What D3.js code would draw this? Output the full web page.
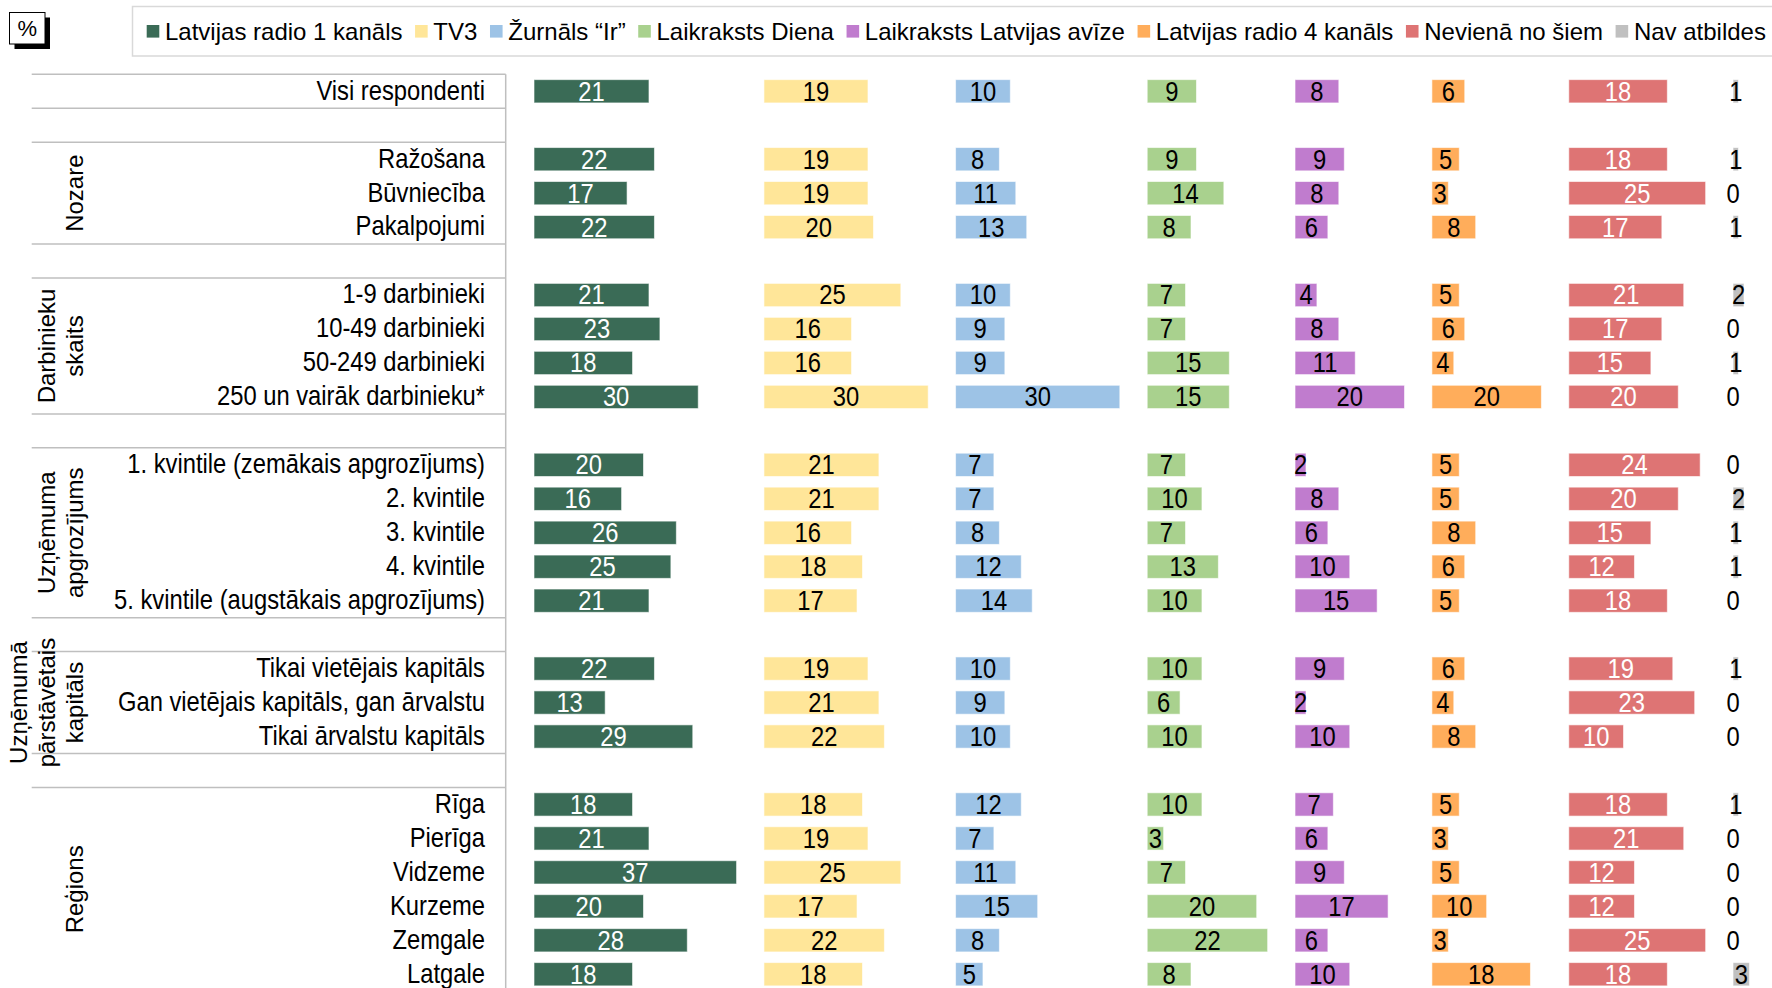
<!DOCTYPE html>
<html>
<head>
<meta charset="utf-8">
<script src="https://cdn.jsdelivr.net/npm/d3@7"></script>
<style>
  body { margin: 0; background: #fff; }
  text { font-family: "Liberation Sans", Arial, sans-serif; }
</style>
</head>
<body>
<div id="chart-area"></div>
<script>
// row labels ("" = empty spacer row)
const rowLabels = [
  "Visi respondenti", "",
  "Ražošana", "Būvniecība", "Pakalpojumi", "",
  "1-9 darbinieki", "10-49 darbinieki", "50-249 darbinieki", "250 un vairāk darbinieku*", "",
  "1. kvintile (zemākais apgrozījums)", "2. kvintile", "3. kvintile", "4. kvintile", "5. kvintile (augstākais apgrozījums)", "",
  "Tikai vietējais kapitāls", "Gan vietējais kapitāls, gan ārvalstu", "Tikai ārvalstu kapitāls", "",
  "Rīga", "Pierīga", "Vidzeme", "Kurzeme", "Zemgale", "Latgale"
];

const seriesNames = ["Latvijas radio 1 kanāls", "TV3", "Žurnāls \u201cIr\u201d", "Laikraksts Diena",
  "Laikraksts Latvijas avīze", "Latvijas radio 4 kanāls", "Nevienā no šiem", "Nav atbildes"];

const lr1     = [21,null,22,17,22,null,21,23,18,30,null,20,16,26,25,21,null,22,13,29,null,18,21,37,20,28,18];
const tv3     = [19,null,19,19,20,null,25,16,16,30,null,21,21,16,18,17,null,19,21,22,null,18,19,25,17,22,18];
const ir      = [10,null,8,11,13,null,10,9,9,30,null,7,7,8,12,14,null,10,9,10,null,12,7,11,15,8,5];
const diena   = [9,null,9,14,8,null,7,7,15,15,null,7,10,7,13,10,null,10,6,10,null,10,3,7,20,22,8];
const la      = [8,null,9,8,6,null,4,8,11,20,null,2,8,6,10,15,null,9,2,10,null,7,6,9,17,6,10];
const lr4     = [6,null,5,3,8,null,5,6,4,20,null,5,5,8,6,5,null,6,4,8,null,5,3,5,10,3,18];
const neviena = [18,null,18,25,17,null,21,17,15,20,null,24,20,15,12,18,null,19,23,10,null,18,21,12,12,25,18];
const nav     = [1,null,1,0,1,null,2,0,1,0,null,0,2,1,1,0,null,1,0,0,null,1,0,0,0,0,3];

const groupNames = [["Nozare"], ["Darbinieku", "skaits"], ["Uzņēmuma", "apgrozījums"],
  ["Uzņēmumā", "pārstāvētais", "kapitāls"], ["Reģions"]];
const groupRows = [[2, 4], [6, 9], [11, 15], [17, 19], [21, 26]];

const allSeries = [lr1, tv3, ir, diena, la, lr4, neviena, nav];
const colors = ["#3a6b56", "#ffe699", "#9dc3e6", "#a9d18e", "#c07cce", "#ffad5b", "#de7474", "#c0c0c0"];
const labelColors = ["#fff", "#000", "#000", "#000", "#000", "#000", "#fff", "#000"];

const W = 1772, H = 988;
const svg = d3.select("#chart-area").append("svg")
  .attr("width", W)
  .attr("height", H);

// each series gets its own column: its max + a gap
const gap = 5;
const offsets = [];
let acc = 0;
allSeries.forEach(s => { offsets.push(acc); acc += d3.max(s) + gap; });

const x = d3.scaleLinear().domain([0, 226]).range([534, 534 + 226 * 5.475]);
const y = d3.scaleBand().domain(d3.range(rowLabels.length))
  .range([74.3, 74.3 + 33.96 * rowLabels.length])
  .paddingInner(0.314).paddingOuter(0.157);
const half = (y.step() - y.bandwidth()) / 2;

const sx = 0.88; // condensed look of the labels

// "%" box
svg.append("rect").attr("x", 14.5).attr("y", 17.5).attr("width", 35.5).attr("height", 31.5).attr("fill", "#000");
svg.append("rect").attr("x", 9.5).attr("y", 12.5).attr("width", 35.5).attr("height", 31.5)
  .attr("fill", "#fff").attr("stroke", "#000").attr("stroke-width", 1);
svg.append("text").attr("x", 27.3).attr("y", 28.5).attr("dy", "0.35em")
  .attr("text-anchor", "middle").style("font-size", "22px").text("%");

// legend
svg.append("rect").attr("x", 132.5).attr("y", 6.5).attr("width", 1700).attr("height", 49.5)
  .attr("fill", "#fff").attr("stroke", "#d9d9d9").attr("stroke-width", 1.5);
let lx = 146.7;
seriesNames.forEach((name, i) => {
  svg.append("rect").attr("x", lx).attr("y", 25).attr("width", 12.6).attr("height", 12.6)
    .attr("fill", colors[i]);
  const t = svg.append("text").attr("x", lx + 18.3).attr("y", 31.3).attr("dy", "0.35em")
    .style("font-size", "24px").text(name);
  lx += 18.3 + t.node().getComputedTextLength() + 12.6;
});

// separator lines
const lines = svg.append("g").attr("stroke", "#bfbfbf").attr("stroke-width", 1.5);
[[0, 0]].concat(groupRows).forEach(([a, b]) => {
  [y(a) - half, y(b) + y.bandwidth() + half].forEach(ly => {
    lines.append("line").attr("x1", 31.7).attr("x2", 505.7).attr("y1", ly).attr("y2", ly);
  });
});
lines.append("line").attr("x1", 505.7).attr("x2", 505.7).attr("y1", y(0) - half).attr("y2", H);

// row labels
rowLabels.forEach((lab, i) => {
  if (!lab) return;
  svg.append("text")
    .attr("transform", "translate(485," + (y(i) + y.bandwidth() / 2) + ") scale(" + sx + ",1)")
    .attr("dy", "0.31em")
    .attr("text-anchor", "end")
    .style("font-size", "27px")
    .text(lab);
});

// group labels (rotated)
groupNames.forEach((lines, g) => {
  const [a, b] = groupRows[g];
  const cy = (y(a) + y(b) + y.bandwidth()) / 2;
  lines.forEach((ln, k) => {
    const bx = 83 - (lines.length - 1 - k) * 28;
    svg.append("text")
      .attr("transform", "translate(" + bx + "," + cy + ") rotate(-90)")
      .attr("text-anchor", "middle")
      .style("font-size", "24px")
      .text(ln);
  });
});

// bars + value labels
allSeries.forEach((s, si) => {
  const off = offsets[si];
  const rows = s.map((v, r) => ({ v: v, r: r })).filter(d => d.v !== null);
  const g = svg.append("g");
  g.selectAll("rect").data(rows).enter().append("rect")
    .attr("x", x(off))
    .attr("y", d => y(d.r))
    .attr("width", d => x(off + d.v) - x(off))
    .attr("height", y.bandwidth())
    .attr("fill", colors[si])
    .attr("stroke", "#fff")
    .attr("stroke-opacity", 0.6)
    .attr("stroke-width", 1);
  g.selectAll("text").data(rows).enter().append("text")
    .attr("transform", d => "translate(" + x(off + d.v / 2) + "," + (y(d.r) + y.bandwidth() / 2) + ") scale(" + sx + ",1)")
    .attr("dy", "0.35em")
    .attr("text-anchor", "middle")
    .attr("fill", labelColors[si])
    .style("font-size", "27px")
    .text(d => d.v);
});
</script>
</body>
</html>
